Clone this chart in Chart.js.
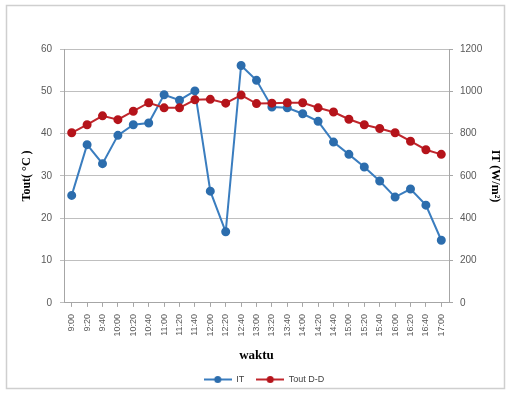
<!DOCTYPE html>
<html>
  <head>
    <meta charset="UTF-8" />
    <title>IT dan Tout</title>
    <style>
      body {
        margin: 0;
        background: #fff;
      }
      #wrap {
        width: 512px;
        height: 394px;
      }
    </style>
  </head>
  <body>
    <div id="wrap"><canvas id="chart" width="512" height="394"></canvas></div>

    <script src="https://cdn.jsdelivr.net/npm/chart.js"></script>
    <script>
      // data
      const waktu = [
        "9:00", "9:20", "9:40", "10:00", "10:20", "10:40", "11:00", "11:20", "11:40",
        "12:00", "12:20", "12:40", "13:00", "13:20", "13:40", "14:00", "14:20", "14:40",
        "15:00", "15:20", "15:40", "16:00", "16:20", "16:40", "17:00",
      ];
      // IT (W/m2), right axis
      const itValues = [
        508, 748, 658, 792, 842, 850, 984, 958, 1002, 528, 336, 1122, 1052,
        926, 922, 894, 858, 760, 702, 642, 576, 500, 538, 462, 296,
      ];
      // Tout D-D (C), left axis
      const toutValues = [
        40.2, 42.1, 44.2, 43.3, 45.3, 47.3, 46.1, 46.1, 48.0, 48.1, 47.2, 49.1, 47.1,
        47.2, 47.3, 47.3, 46.1, 45.1, 43.4, 42.1, 41.2, 40.2, 38.2, 36.2, 35.1,
      ];

      const blue = "#3a7dbf";
      const bluePt = "#2c6dad";
      const red = "#c0262c";
      const redPt = "#b5141b";

      // legend marker: short line with a dot
      function legendMark(lineColor, dotColor) {
        const c = document.createElement("canvas");
        c.width = 28;
        c.height = 9;
        const g = c.getContext("2d");
        g.strokeStyle = lineColor;
        g.lineWidth = 2;
        g.beginPath();
        g.moveTo(0, 4.5);
        g.lineTo(28, 4.5);
        g.stroke();
        g.fillStyle = dotColor;
        g.beginPath();
        g.arc(14, 4.5, 3.5, 0, Math.PI * 2);
        g.fill();
        return c;
      }
      const marks = [legendMark(blue, bluePt), legendMark(red, redPt)];

      const frame = {
        id: "frame",
        beforeDraw(chart) {
          const c = chart.ctx;
          c.save();
          c.fillStyle = "#fff";
          c.fillRect(0, 0, chart.width, chart.height);
          c.strokeStyle = "#cfcfcf";
          c.lineWidth = 1.5;
          c.strokeRect(6.5, 5.5, 498, 383);
          c.restore();
        },
      };

      const ctx = document.getElementById("chart").getContext("2d");
      const chart = new Chart(ctx, {
        type: "line",
        data: {
          labels: waktu,
          datasets: [
            {
              label: "IT",
              data: itValues,
              yAxisID: "y1",
              borderColor: blue,
              backgroundColor: bluePt,
              pointBackgroundColor: bluePt,
              pointBorderColor: bluePt,
              borderWidth: 2,
              pointRadius: 3.5,
              tension: 0,
              order: 1,
            },
            {
              label: "Tout D-D",
              data: toutValues,
              yAxisID: "y",
              borderColor: red,
              backgroundColor: redPt,
              pointBackgroundColor: redPt,
              pointBorderColor: redPt,
              borderWidth: 2,
              pointRadius: 3.5,
              tension: 0,
              order: 0,
            },
          ],
        },
        options: {
          responsive: false,
          animation: false,
          layout: { padding: { left: 20, right: 4, top: 49, bottom: 0 } },
          plugins: {
            tooltip: { enabled: false },
            legend: {
              position: "bottom",
              labels: {
                usePointStyle: true,
                pointStyleWidth: 28,
                boxHeight: 9,
                padding: 12,
                color: "#404040",
                font: { family: "Liberation Sans", size: 9 },
                generateLabels(ch) {
                  const items = Chart.defaults.plugins.legend.labels.generateLabels(ch);
                  items.sort((a, b) => a.datasetIndex - b.datasetIndex);
                  items.forEach((it) => {
                    it.pointStyle = marks[it.datasetIndex];
                  });
                  return items;
                },
              },
            },
          },
          scales: {
            x: {
              offset: true,
              grid: {
                drawOnChartArea: false,
                tickLength: 4,
                color: "#a6a6a6",
              },
              border: { color: "#a6a6a6" },
              ticks: {
                autoSkip: false,
                minRotation: 90,
                maxRotation: 90,
                padding: 7,
                color: "#595959",
                font: { family: "Liberation Sans", size: 9 },
              },
              title: {
                display: true,
                text: "waktu",
                color: "#000",
                padding: { top: 4, bottom: 0 },
                font: { family: "Liberation Serif", size: 13, weight: "bold" },
              },
            },
            y: {
              position: "left",
              min: 0,
              max: 60,
              afterFit: (s) => {
                s.width = 44;
              },
              ticks: {
                stepSize: 10,
                padding: 8,
                color: "#595959",
                font: { family: "Liberation Sans", size: 10 },
              },
              grid: { color: "#bfbfbf", tickLength: 4 },
              border: { color: "#a6a6a6" },
              title: {
                display: true,
                text: "Tout( °C )",
                color: "#000",
                padding: { top: 0, bottom: 6 },
                font: { family: "Liberation Serif", size: 12, weight: "bold" },
              },
            },
            y1: {
              position: "right",
              min: 0,
              max: 1200,
              afterFit: (s) => {
                s.width = 59;
              },
              ticks: {
                stepSize: 200,
                padding: 7,
                color: "#595959",
                font: { family: "Liberation Sans", size: 10 },
                callback: (v) => String(v),
              },
              grid: { drawOnChartArea: false, color: "#a6a6a6", tickLength: 4 },
              border: { color: "#a6a6a6" },
              title: {
                display: true,
                text: "IT (W/m²)",
                color: "#000",
                padding: { top: 6, bottom: 8 },
                font: { family: "Liberation Serif", size: 12, weight: "bold" },
              },
            },
          },
        },
        plugins: [frame],
      });
    </script>
  </body>
</html>
